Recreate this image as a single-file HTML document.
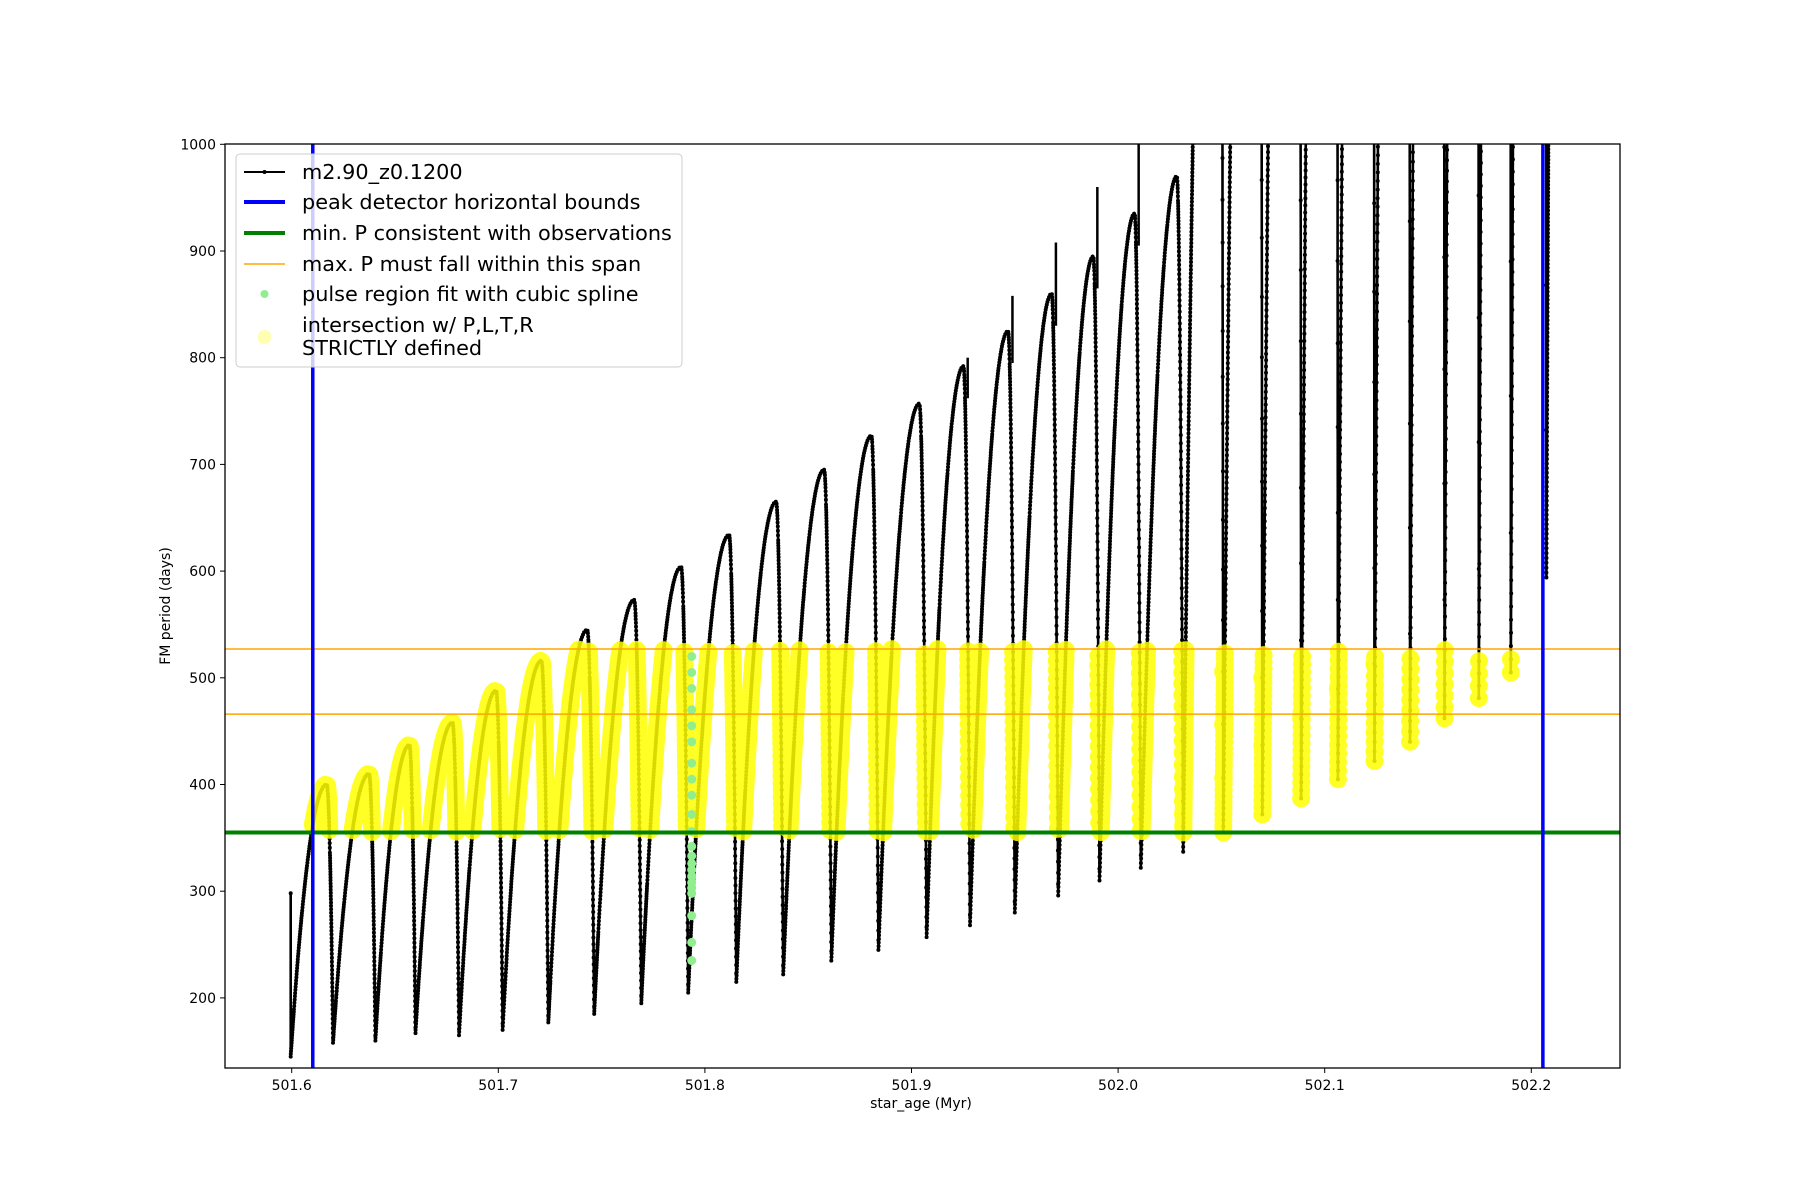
<!DOCTYPE html>
<html>
<head>
<meta charset="utf-8">
<style>
html,body{margin:0;padding:0;background:#fff;}
svg{display:block;}
text{font-family:"DejaVu Sans","Liberation Sans",sans-serif;fill:#000;}
</style>
</head>
<body>
<svg id="chart" width="1800" height="1200" viewBox="0 0 1800 1200">
  <rect x="0" y="0" width="1800" height="1200" fill="#fff"/>
  <defs><clipPath id="clip"><rect x="225" y="144" width="1395" height="924"/></clipPath></defs>
  <g id="plot" clip-path="url(#clip)"></g>
  <rect x="225" y="144" width="1395" height="924" fill="none" stroke="#000" stroke-width="1.3"/>
  <g id="xticks"></g>
  <g id="yticks"></g>
  <text x="921" y="1108" font-size="14" text-anchor="middle">star_age (Myr)</text>
  <text x="0" y="0" font-size="14" text-anchor="middle" transform="translate(170,606) rotate(-90)">FM period (days)</text>

  <g>
    <rect x="236" y="154" width="446" height="213" rx="4" fill="#fff" fill-opacity="0.8" stroke="#ccc" stroke-width="1"/>
    <g>
      <line x1="244" y1="172" x2="285" y2="172" stroke="#000" stroke-width="2"/>
      <circle cx="264.5" cy="172" r="2" fill="#000"/>
      <text x="302" y="179" font-size="20.8">m2.90_z0.1200</text>
    </g>
    <g>
      <line x1="244" y1="202" x2="285" y2="202" stroke="#0000ff" stroke-width="4"/>
      <text x="302" y="209" font-size="20.8">peak detector horizontal bounds</text>
    </g>
    <g>
      <line x1="244" y1="233" x2="285" y2="233" stroke="#008000" stroke-width="4"/>
      <text x="302" y="240" font-size="20.8">min. P consistent with observations</text>
    </g>
    <g>
      <line x1="244" y1="264" x2="285" y2="264" stroke="#ffa500" stroke-width="1.5"/>
      <text x="302" y="271" font-size="20.8">max. P must fall within this span</text>
    </g>
    <g>
      <circle cx="264.5" cy="294" r="4" fill="#90ee90"/>
      <text x="302" y="301" font-size="20.8">pulse region fit with cubic spline</text>
    </g>
    <g>
      <circle cx="264.5" cy="337" r="7" fill="#ffff00" fill-opacity="0.3"/>
      <text x="302" y="332" font-size="20.8">intersection w/ P,L,T,R</text>
      <text x="302" y="355" font-size="20.8">STRICTLY defined</text>
    </g>
  </g>
</svg>
<script>
// ---- data ----
const xTicks = [501.6, 501.7, 501.8, 501.9, 502.0, 502.1, 502.2];
const yTicks = [200, 300, 400, 500, 600, 700, 800, 900, 1000];
const startAge = 501.5995;
const startMin = 145;
const startSpike = 298;
const dropAges = [501.6200,501.6405,501.6599,501.6810,501.7021,501.7242,501.7464,501.7692,501.7919,501.8152,
  501.8379,501.8612,501.8840,501.9073,501.9283,501.9500,501.9710,501.9910,502.0110,502.0315,
  502.0509,502.0698,502.0886,502.1064,502.1241,502.1413,502.1580,502.1746,502.1901,502.2073];
const peakP = [400,410,437,458,488,516,545,573,604,634,665,695,727,757,792,825,860,895,935,970,
  1800,2200,2500,2800,3000,3300,3600,3900,4200,4500];
const minP = [158,160,167,165,170,177,185,195,205,215,222,235,245,257,268,280,296,310,322,337,
  355,372,387,405,422,440,462,481,505,594];
const spikeP = [0,0,0,0,0,0,0,0,0,0,0,0,0,0,800,858,908,960,1000,0,0,0,0,0,0,0,0,0,0,0];
const endAge = 502.2105;
const endPeak = 1400;
const boundAges = [501.6102, 502.2056];
const minObsP = 355;
const maxSpanP = [466, 527];
const greenAge = 501.7936;
const greenP = [235,252,277,298,303,308,314,320,326,333,342,356,372,390,405,420,440,455,470,490,505,520];

// ---- axes ----
const X0 = 501.6, PX0 = 291.7, PXS = 2066;
const Y0 = 1000, PY0 = 144.3, PYS = 1.067;
const X = a => PX0 + (a - X0) * PXS;
const Y = p => PY0 + (Y0 - p) * PYS;
const NS = 'http://www.w3.org/2000/svg';
const mk = (tag, attrs, parent) => { const e = document.createElementNS(NS, tag); for (const k in attrs) e.setAttribute(k, attrs[k]); parent.appendChild(e); return e; };

const xg = document.getElementById('xticks');
xTicks.forEach(t => {
  const g = mk('g', {}, xg);
  
  
  mk('line', {x1: X(t), x2: X(t), y1: 1068, y2: 1073, stroke: '#000', 'stroke-width': 1}, g);
  const tx = mk('text', {x: X(t), y: 1090, 'font-size': 14, 'text-anchor': 'middle'}, g);
  tx.textContent = t.toFixed(1);
});
const yg = document.getElementById('yticks');
yTicks.forEach(t => {
  const g = mk('g', {}, yg);
  
  
  mk('line', {x1: 220, x2: 225, y1: Y(t), y2: Y(t), stroke: '#000', 'stroke-width': 1}, g);
  const tx = mk('text', {x: 216, y: Y(t) + 5, 'font-size': 14, 'text-anchor': 'end'}, g);
  tx.textContent = String(t);
});

// ---- build series ----
const fine = [];
const spikeAt = [];
function pulse(t0, m0, t1, pk, mn, fallFrac, full) {
  const N = 700;
  for (let i = 0; i <= N; i++) {
    const f = i / N;
    let p;
    const rf = 1 - fallFrac;
    if (!full || f <= rf) {
      const g = full ? f / rf : f;
      p = m0 + (pk - m0) * (1 - Math.pow(1 - g, 2));
    } else {
      const h = (f - rf) / fallFrac;
      p = pk - (pk - mn) * h * h;
    }
    fine.push([t0 + (t1 - t0) * f, p]);
  }
  return t0 + (t1 - t0) * (1 - fallFrac * 0.35);
}
fine.push([startAge, startSpike]);
let prevT = startAge, prevM = startMin;
for (let i = 0; i < dropAges.length; i++) {
  spikeAt.push(pulse(prevT, prevM, dropAges[i], peakP[i], minP[i], i >= 20 ? 0.08 : 0.15, true));
  prevT = dropAges[i]; prevM = minP[i];
}
pulse(prevT, prevM, endAge, endPeak, endPeak, 0, false);

// resample by pixel arc length
const pts = [];
let last = null, acc = 0;
fine.forEach(([a, p]) => {
  const px = X(a), py = Y(Math.min(p, 1100));
  if (!last) { pts.push([px, py, a, p]); last = [px, py]; return; }
  acc += Math.hypot(px - last[0], py - last[1]);
  last = [px, py];
  if (acc >= 2.5) { pts.push([px, py, a, p]); acc = 0; }
});

const plot = document.getElementById('plot');

// black line
const line = mk('path', {d: 'M' + pts.map(q => q[0].toFixed(1) + ',' + q[1].toFixed(1)).join('L'), fill: 'none', stroke: '#000', 'stroke-width': 2.6}, plot);


const dots = mk('path', {d: pts.map(q => 'M' + (q[0] - 2).toFixed(1) + ',' + q[1].toFixed(1) + 'a2,2 0 1,0 4,0a2,2 0 1,0 -4,0').join(''), fill: '#000'}, plot);


// spikes
dropAges.forEach((t, i) => {
  if (spikeP[i] > 0) {
    const s = mk('line', {x1: X(spikeAt[i]), x2: X(spikeAt[i]), y1: Y(peakP[i] - 30), y2: Y(spikeP[i]), stroke: '#000', 'stroke-width': 2.5}, plot);
    
    
  }
});

// yellow intersection markers
const yel = mk('g', {fill: '#ffff00', 'fill-opacity': 0.85}, plot);


let yd = '';
pts.forEach(q => {
  if (q[3] >= minObsP && q[3] <= maxSpanP[1] && q[2] >= boundAges[0] && q[2] <= boundAges[1]) {
    yd += 'M' + (q[0] - 9).toFixed(1) + ',' + q[1].toFixed(1) + 'a9,9 0 1,0 18,0a9,9 0 1,0 -18,0';
  }
});
mk('path', {d: yd}, yel);

// green spline points
const gg = mk('g', {fill: '#90ee90'}, plot);


greenP.forEach(p => {
  const c = mk('circle', {cx: X(greenAge), cy: Y(p), r: 4.5}, gg);
  
  
});

// reference lines
maxSpanP.forEach(p => {
  const l = mk('line', {x1: 225, x2: 1620, y1: Y(p), y2: Y(p), stroke: '#ffa500', 'stroke-width': 1.5}, plot);
  
  
});
const gl = mk('line', {x1: 225, x2: 1620, y1: Y(minObsP), y2: Y(minObsP), stroke: '#008000', 'stroke-width': 4}, plot);


boundAges.forEach(a => {
  const l = mk('line', {x1: X(a), x2: X(a), y1: 144, y2: 1068, stroke: '#0000ff', 'stroke-width': 3.5}, plot);
  
  
});
</script>
</body>
</html>
